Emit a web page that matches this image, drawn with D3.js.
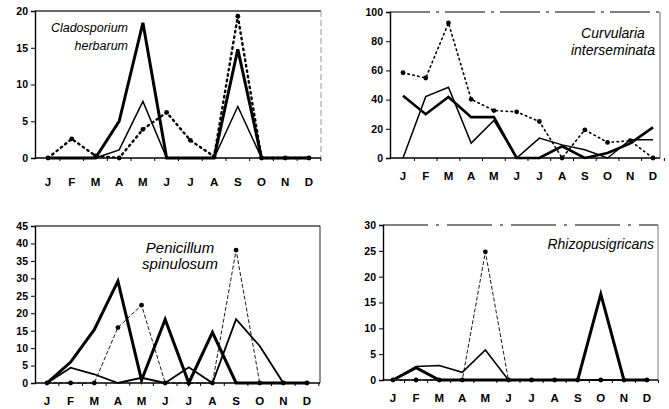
<!DOCTYPE html>
<html>
<head>
<meta charset="utf-8">
<script src="https://cdn.jsdelivr.net/npm/d3@7"></script>
<style>
	body { margin: 0; background: #fff; }
	svg text { font-family: "Liberation Sans", Arial, sans-serif; }
</style>
</head>
<body>
<div id="chart"></div>
<script>
	const width = 669;
	const height = 409;

	const months = ["J", "F", "M", "A", "M", "J", "J", "A", "S", "O", "N", "D"];
	const monthKeys = months.map((m, i) => i);

	// Cladosporium herbarum
	const cladoThick = [0, 0, 0, 5, 18.4, 0, 0, 0, 14.8, 0, 0, 0];
	const cladoThin = [0, 0, 0, 1.1, 7.7, 0, 0, 0, 7, 0, 0, 0];
	const cladoDotted = [0, 2.6, 0.3, 0, 3.9, 6.2, 2.4, 0.2, 19.3, 0, 0, 0];

	// Curvularia interseminata
	const curvThick = [42.7, 30, 41.8, 28, 28, 0, 0, 8, 0, 3.4, 10, 21];
	const curvThin = [0, 42, 48.4, 10.2, 25.7, 0, 13.6, 9, 5.7, 0, 12.5, 12.5];
	const curvDotted = [58.4, 54.8, 92.5, 40.2, 32.5, 31.6, 25, 0, 19.3, 10.7, 11.8, 0];

	// Penicillum spinulosum
	const peniThick = [0, 6, 15.3, 29.2, 0.8, 18.2, 0, 14.5, 0, 0, 0, 0];
	const peniThin = [0, 4.4, 2.5, 0, 1.5, 0, 4.5, 0, 18.3, 10.6, 0, 0];
	const peniDashed = [0, 0, 0, 15.9, 22.3, 0, 0, 0, 38.1, 0, 0, 0];

	// Rhizopus nigricans
	const rhizThick = [0, 2.4, 0, 0, 0, 0, 0, 0, 0, 16.6, 0, 0];
	const rhizThin = [0, 2.6, 2.8, 1.5, 5.8, 0, 0, 0, 0, 0, 0, 0];
	const rhizDashed = [0, 0, 0, 0, 24.8, 0, 0, 0, 0, 0, 0, 0];

	const svg = d3
		.select("#chart")
		.append("svg")
		.attr("width", width)
		.attr("height", height);

	const panels = [
		{
			ax: 35, x0: 48, x1: 309, xr: 321, yTop: 11, yZero: 158, labelY: 186,
			max: 20, step: 5,
			title: ["Cladosporium", "herbarum"], titleX: 128, titleY: [32, 50],
			titleSize: 12.5, anchor: "end",
			top: { color: "#333", width: 1.6, dash: null },
			right: { color: "#999", width: 1, dash: "6,3" },
			series: [
				{ values: cladoDotted, width: 2.4, dash: "1.5,4", cap: "round", dots: true },
				{ values: cladoThin, width: 1.5 },
				{ values: cladoThick, width: 3 },
			],
		},
		{
			ax: 390, x0: 403, x1: 653, xr: 660, yTop: 12, yZero: 158, labelY: 180,
			max: 100, step: 20,
			title: ["Curvularia", "interseminata"], titleX: 613, titleY: [38, 55],
			titleSize: 14, anchor: "middle",
			top: { color: "#555", width: 1.3, dash: "40,6,3,6" },
			right: { color: "#666", width: 1, dash: null },
			series: [
				{ values: curvDotted, width: 1.6, dash: "1.5,3.5", cap: "round", dots: true },
				{ values: curvThin, width: 1.5 },
				{ values: curvThick, width: 2.6 },
			],
		},
		{
			ax: 35, x0: 47, x1: 307, xr: 320, yTop: 226, yZero: 383, labelY: 405,
			max: 45, step: 5,
			title: ["Penicillum", "spinulosum"], titleX: 180, titleY: [253, 269],
			titleSize: 15, anchor: "middle",
			top: { color: "#444", width: 1.3, dash: null },
			right: { color: "#222", width: 1, dash: null },
			series: [
				{ values: peniDashed, width: 0.9, dash: "4,2", dots: true },
				{ values: peniThin, width: 1.8 },
				{ values: peniThick, width: 3 },
			],
		},
		{
			ax: 383, x0: 393, x1: 647, xr: 658, yTop: 225, yZero: 380, labelY: 402,
			max: 30, step: 5,
			title: ["Rhizopusigricans"], titleX: 654, titleY: [249],
			titleSize: 14, anchor: "end",
			top: { color: "#555", width: 1.3, dash: "45,8,3,8" },
			right: { color: "#777", width: 1, dash: null },
			series: [
				{ values: rhizDashed, width: 0.9, dash: "4,2", dots: true },
				{ values: rhizThin, width: 1.6 },
				{ values: rhizThick, width: 3 },
			],
		},
	];

	panels.forEach((p) => {
		const g = svg.append("g");

		const x = d3.scalePoint().domain(monthKeys).range([p.x0, p.x1]);
		const y = d3.scaleLinear().domain([0, p.max]).range([p.yZero, p.yTop]);

		// frame top and right
		g.append("line")
			.attr("x1", p.ax).attr("x2", p.xr)
			.attr("y1", p.yTop).attr("y2", p.yTop)
			.attr("stroke", p.top.color)
			.attr("stroke-width", p.top.width)
			.attr("stroke-dasharray", p.top.dash);
		g.append("line")
			.attr("x1", p.xr).attr("x2", p.xr)
			.attr("y1", p.yTop).attr("y2", p.yZero)
			.attr("stroke", p.right.color)
			.attr("stroke-width", p.right.width)
			.attr("stroke-dasharray", p.right.dash);

		// y axis
		const yAxis = d3
			.axisLeft(y)
			.tickValues(d3.range(0, p.max + 0.01, p.step))
			.tickSize(4)
			.tickPadding(3);
		const ya = g.append("g")
			.attr("transform", `translate(${p.ax},0)`)
			.call(yAxis);
		ya.select(".domain").attr("stroke-width", 1.4);
		ya.selectAll("text")
			.style("font-size", "10.5px")
			.style("font-weight", "bold")
			.style("font-family", "'Liberation Sans', Arial, sans-serif");

		// x axis line with minor ticks between months
		g.append("line")
			.attr("x1", p.ax).attr("x2", p.xr)
			.attr("y1", p.yZero).attr("y2", p.yZero)
			.attr("stroke", "#000")
			.attr("stroke-width", 1.4);
		const half = x.step() / 2;
		g.selectAll(".mtick")
			.data(monthKeys)
			.enter()
			.append("line")
			.attr("x1", (d) => x(d) + half)
			.attr("x2", (d) => x(d) + half)
			.attr("y1", p.yZero)
			.attr("y2", p.yZero + 3)
			.attr("stroke", "#000")
			.attr("stroke-width", 1);

		g.selectAll(".mlabel")
			.data(monthKeys)
			.enter()
			.append("text")
			.attr("x", (d) => x(d))
			.attr("y", p.labelY)
			.attr("text-anchor", "middle")
			.style("font-size", "11.5px")
			.style("font-weight", "bold")
			.text((d) => months[d]);

		// series
		const line = d3
			.line()
			.x((d, i) => x(i))
			.y((d) => y(d));

		p.series.forEach((s) => {
			g.append("path")
				.datum(s.values)
				.attr("d", line)
				.attr("fill", "none")
				.attr("stroke", "#000")
				.attr("stroke-width", s.width)
				.attr("stroke-linejoin", "miter")
				.attr("stroke-linecap", s.cap || "butt")
				.attr("stroke-dasharray", s.dash || null);
			if (s.dots) {
				g.selectAll(null)
					.data(s.values)
					.enter()
					.append("circle")
					.attr("cx", (d, i) => x(i))
					.attr("cy", (d) => y(d))
					.attr("r", 2.4)
					.attr("fill", "#000");
			}
		});

		// species name
		g.selectAll(".title")
			.data(p.title)
			.enter()
			.append("text")
			.attr("x", p.titleX)
			.attr("y", (d, i) => p.titleY[i])
			.attr("text-anchor", p.anchor)
			.style("font-style", "italic")
			.style("font-size", p.titleSize + "px")
			.text((d) => d);
	});
</script>
</body>
</html>
